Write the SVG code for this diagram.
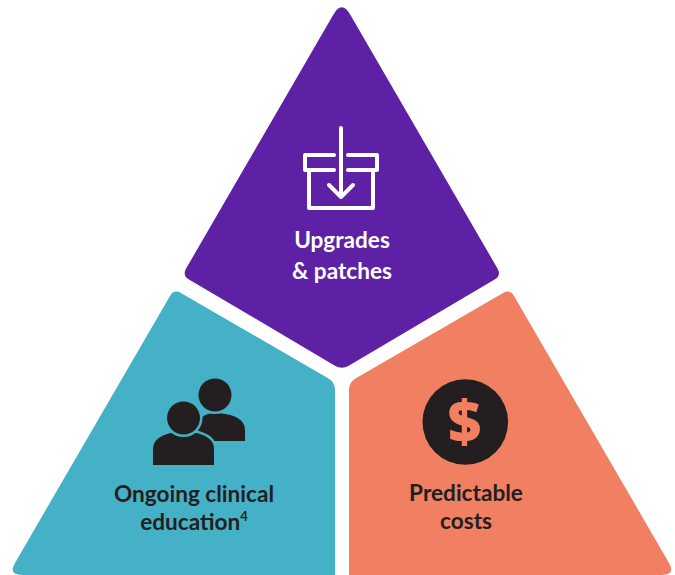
<svg xmlns="http://www.w3.org/2000/svg" width="675" height="575" viewBox="0 0 675 575">
<style>
.lbl{font-family:Lato,"Open Sans","Liberation Sans",sans-serif;font-weight:bold;font-size:22.6px;text-anchor:middle}
.dark{fill:#231F20}
.white{fill:#FFFFFF}
.ico{fill:none;stroke:#FFFFFF;stroke-width:4;stroke-linecap:round;stroke-linejoin:round}
</style>
<rect width="675" height="575" fill="#FFFFFF"/>
<g id="upgrades">
<path fill="#5E21A5" d="M350.3,14.7 L497.5,268.5 Q501.5,275.4 494.6,279.4 L348.7,365.7 Q341.8,369.7 334.9,365.7 L189,279.4 Q182.1,275.4 186.1,268.5 L333.3,14.7 Q341.8,0 350.3,14.7 Z"/>
<g class="ico">
<path d="M334,155 H305 V170 H334"/>
<path d="M348,155 H377 V170 H348"/>
<path d="M309,170 V208 H373 V170"/>
<path d="M341,128 V197 M329,185 L341,197 L353,185"/>
</g>
<text class="lbl white" x="342" y="248">Upgrades</text>
<text class="lbl white" x="342" y="279">&amp; patches</text>
</g>
<g id="education">
<path fill="#45B1C6" d="M180.9,293 L328.1,378.3 Q335,382.3 335,390.3 L335,575 L22,575 Q8,575 15,562.9 L170,295.9 Q174,289 180.9,293 Z"/>
<g class="dark" stroke="#45B1C6" stroke-width="5" paint-order="stroke">
<path d="M197,441 V428 C197,418 205,414 213,413 L219,413 C236,415 245,420 245,430 V441 Z" stroke="none"/>
<circle cx="215" cy="395" r="16.5"/>
<path d="M153,465 V449 C153,440 160,436 170,433 L197,433 C207,436 214,440 214,449 V465 Z"/>
<circle cx="183.5" cy="418" r="16.5"/>
</g>
<text class="lbl dark" x="194" y="502">Ongoing clinical</text>
<text class="lbl dark" x="194" y="530">education<tspan font-size="13" dy="-9">4</tspan></text>
</g>
<g id="costs">
<path fill="#F17F61" d="M503.1,293 L355.9,378.3 Q349,382.3 349,390.3 L349,575 L662,575 Q676,575 669,562.9 L514,295.9 Q510,289 503.1,293 Z"/>
<circle class="dark" cx="465.3" cy="422" r="42.8"/>
<text x="464.5" y="443" fill="#F17F61" font-family="'Open Sans','Liberation Sans',sans-serif" font-weight="800" font-size="58" text-anchor="middle">$</text>
<text class="lbl dark" x="466" y="501">Predictable</text>
<text class="lbl dark" x="466" y="529">costs</text>
</g>
<g id="connectors"/>
</svg>
